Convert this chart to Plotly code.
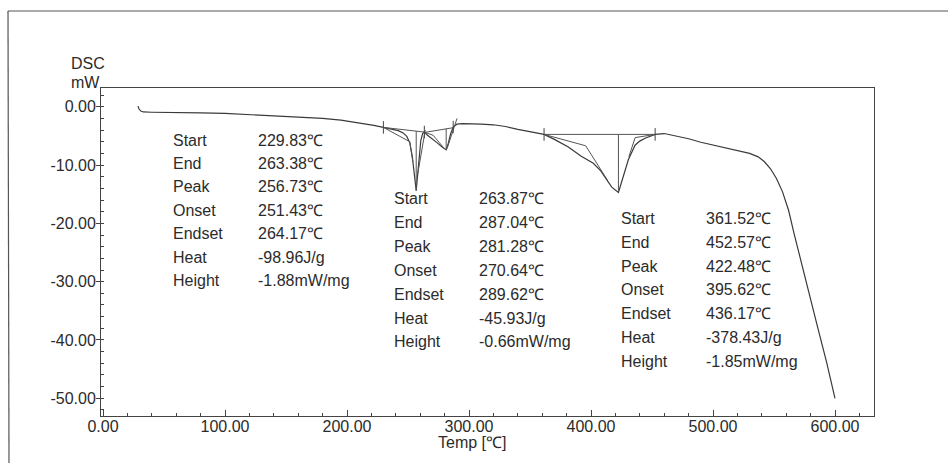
import plotly.graph_objects as go

# ---- DSC trace (temperature in degC, heat flow in mW) ----
temp = [28.7, 29.5, 31, 33, 40, 50, 65, 80, 100, 120, 140, 160, 180, 195, 205,
        215, 222, 229.83, 236, 242, 246, 249, 251.5, 253.5, 255.3, 256.73, 258,
        259.3, 260.5, 262, 263.38, 266, 270, 274, 278, 281.28, 283, 285, 287.04,
        290, 295, 300, 310, 320, 330, 340, 350, 361.52, 370, 381.4, 392, 401.9,
        408, 412.8, 417, 422.48, 426.5, 430.6, 436.1, 440, 444.3, 452.57, 460,
        470, 480, 490, 500, 510, 520, 530, 537, 542, 547, 552, 557, 562, 566.5,
        572, 579.5, 586, 593, 600]
dsc = [0.1, -0.4, -0.75, -0.9, -0.95, -0.95, -1.0, -1.05, -1.15, -1.35, -1.55,
       -1.8, -2.0, -2.3, -2.6, -2.95, -3.2, -3.55, -3.8, -4.1, -4.5, -5.1, -6.2,
       -8.5, -11.8, -14.4, -11.5, -8.0, -5.8, -4.6, -4.35, -4.9, -5.5, -6.2, -6.9,
       -7.4, -6.3, -4.6, -3.5, -3.0, -2.9, -2.9, -3.0, -3.1, -3.4, -3.9, -4.3,
       -4.75, -5.6, -6.9, -8.5, -9.7, -11.0, -12.6, -13.8, -14.7, -12.0, -9.1,
       -6.6, -5.9, -5.4, -4.75, -4.6, -5.0, -5.5, -6.1, -6.6, -7.1, -7.5, -8.0,
       -8.6, -9.4, -10.6, -12.3, -14.6, -17.8, -21.8, -26.5, -32.8, -38.0, -43.7,
       -50.0]

# ---- peak analysis results ----
item_names = ["Start", "End", "Peak", "Onset", "Endset", "Heat", "Height"]
peak1_vals = ["229.83℃", "263.38℃", "256.73℃", "251.43℃", "264.17℃", "-98.96J/g", "-1.88mW/mg"]
peak2_vals = ["263.87℃", "287.04℃", "281.28℃", "270.64℃", "289.62℃", "-45.93J/g", "-0.66mW/mg"]
peak3_vals = ["361.52℃", "452.57℃", "422.48℃", "395.62℃", "436.17℃", "-378.43J/g", "-1.85mW/mg"]

# analysis construction lines (temperature, signal) per peak
peak1_base_t = [229.83, 263.38]; peak1_base_y = [-3.55, -4.35]
peak1_vert_t = [256.73, 256.73]; peak1_vert_y = [-14.4, -4.19]
peak1_on_t = [229.83, 251.43, 254.0]; peak1_on_y = [-3.55, -6.0, -9.5]
peak1_end_t = [258.0, 264.17]; peak1_end_y = [-11.5, -4.0]

peak2_base_t = [263.87, 287.04]; peak2_base_y = [-4.4, -3.6]
peak2_vert_t = [281.28, 281.28]; peak2_vert_y = [-7.4, -3.78]
peak2_on_t = [263.87, 270.64, 279.5]; peak2_on_y = [-4.4, -4.9, -7.1]
peak2_end_t = [282.0, 290.2]; peak2_end_y = [-7.2, -2.0]

peak3_base_t = [361.52, 452.57]; peak3_base_y = [-4.75, -4.75]
peak3_vert_t = [422.48, 422.48]; peak3_vert_y = [-14.7, -4.75]
peak3_on_t = [361.52, 395.62, 413.5]; peak3_on_y = [-4.75, -6.7, -12.6]
peak3_end_t = [452.57, 436.17, 431.0]; peak3_end_y = [-4.75, -5.3, -8.6]

limit_t = [229.83, 263.38, 287.04, 361.52, 452.57]
limit_y = [-3.55, -4.35, -3.5, -4.75, -4.75]

x_ticks = [0, 100, 200, 300, 400, 500, 600]
x_tick_text = ["0.00", "100.00", "200.00", "300.00", "400.00", "500.00", "600.00"]
y_ticks = [0, -10, -20, -30, -40, -50]
y_tick_text = ["0.00", "-10.00", "-20.00", "-30.00", "-40.00", "-50.00"]

# ---- figure ----
W, H = 948, 463
L, R, T, B = 101, 874, 88, 416
FONT = "Liberation Sans, Arial, sans-serif"
INK = "#2b2b2b"
LINE = "#444444"


def px(x):
    return (x - L) / (R - L)


def py(y):
    return (B - y) / (B - T)


fig = go.Figure()
fig.add_trace(go.Scatter(x=temp, y=dsc, mode="lines",
                         line=dict(color="#3a3a3a", width=1.2), showlegend=False))

for tt, yy in [(peak1_base_t, peak1_base_y), (peak1_vert_t, peak1_vert_y),
               (peak1_on_t, peak1_on_y), (peak1_end_t, peak1_end_y),
               (peak2_base_t, peak2_base_y), (peak2_vert_t, peak2_vert_y),
               (peak2_on_t, peak2_on_y), (peak2_end_t, peak2_end_y),
               (peak3_base_t, peak3_base_y), (peak3_vert_t, peak3_vert_y),
               (peak3_on_t, peak3_on_y), (peak3_end_t, peak3_end_y)]:
    fig.add_trace(go.Scatter(x=tt, y=yy, mode="lines",
                             line=dict(color="#555555", width=1), showlegend=False))

fig.add_trace(go.Scatter(x=limit_t, y=limit_y, mode="markers",
                         marker=dict(symbol="line-ns-open", size=9, color=LINE,
                                     line=dict(color=LINE, width=1)),
                         showlegend=False))

# result tables: (values, label left px, value left px, first row centre px, row pitch)
tables = [(peak1_vals, 171, 256, 140, 23.4),
          (peak2_vals, 392, 477, 198.5, 23.9),
          (peak3_vals, 619, 704, 218.5, 23.8)]
for vals, lx, vx, y0, dy in tables:
    for i, (name, val) in enumerate(zip(item_names, vals)):
        yy = y0 + i * dy
        fig.add_annotation(x=px(lx), y=py(yy), xref="paper", yref="paper",
                           text=name, showarrow=False, xanchor="left", yanchor="middle",
                           font=dict(family=FONT, size=16, color=INK))
        fig.add_annotation(x=px(vx), y=py(yy), xref="paper", yref="paper",
                           text=val, showarrow=False, xanchor="left", yanchor="middle",
                           font=dict(family=FONT, size=16, color=INK))

# axis captions
fig.add_annotation(x=px(69), y=py(64), xref="paper", yref="paper", text="DSC",
                   showarrow=False, xanchor="left", yanchor="middle",
                   font=dict(family=FONT, size=16, color=INK))
fig.add_annotation(x=px(69), y=py(82), xref="paper", yref="paper", text="mW",
                   showarrow=False, xanchor="left", yanchor="middle",
                   font=dict(family=FONT, size=16, color=INK))
fig.add_annotation(x=px(472), y=py(442), xref="paper", yref="paper", text="Temp [℃]",
                   showarrow=False, xanchor="center", yanchor="middle",
                   font=dict(family=FONT, size=16, color=INK))

# page frame
fig.add_shape(type="line", xref="paper", yref="paper", x0=px(8), y0=py(11),
              x1=px(948), y1=py(11), line=dict(color="#555555", width=1.2))
fig.add_shape(type="line", xref="paper", yref="paper", x0=px(8), y0=py(11),
              x1=px(9), y1=py(463), line=dict(color="#555555", width=1.2))

fig.update_layout(
    width=W, height=H,
    margin=dict(l=L, r=W - R, t=T, b=H - B),
    paper_bgcolor="white", plot_bgcolor="white",
    xaxis=dict(range=[(L - 103) / 1.22, (R - 103) / 1.22],
               tickvals=x_ticks, ticktext=x_tick_text,
               ticks="inside", ticklen=6, tickcolor=LINE, ticklabelstandoff=-4,
               minor=dict(dtick=20, tick0=0, ticks="inside", ticklen=3, tickcolor=LINE),
               showline=True, linecolor=LINE, linewidth=1, mirror=True,
               showgrid=False, zeroline=False,
               tickfont=dict(family=FONT, size=16, color=INK)),
    yaxis=dict(range=[-(B - 106.7) / 5.832, (106.7 - T) / 5.832],
               tickvals=y_ticks, ticktext=y_tick_text,
               ticks="outside", ticklen=4, tickcolor=LINE, ticklabelstandoff=-3,
               minor=dict(dtick=2, tick0=0, ticks="inside", ticklen=3, tickcolor=LINE),
               showline=True, linecolor=LINE, linewidth=1, mirror=True,
               showgrid=False, zeroline=False,
               tickfont=dict(family=FONT, size=16, color=INK)),
)

fig.write_html("out.html")
